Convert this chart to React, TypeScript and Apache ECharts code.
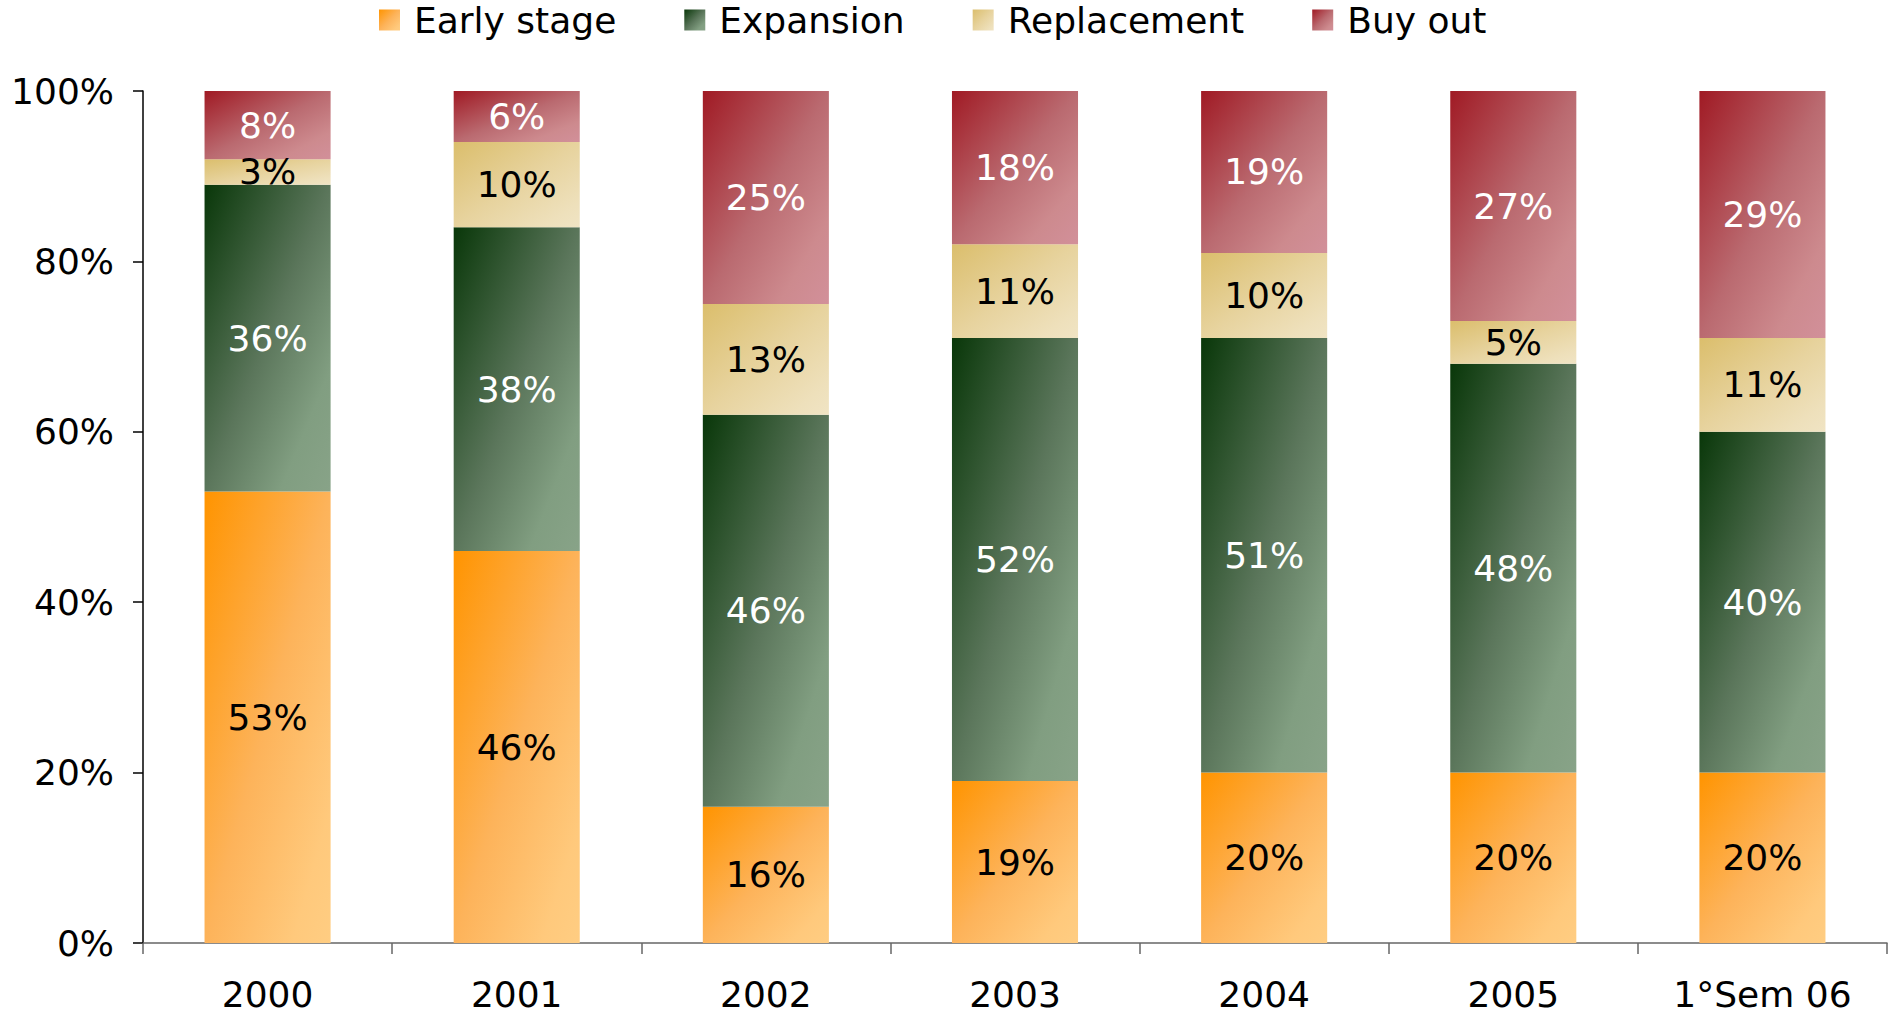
import React, { useEffect, useRef } from "react";
import * as echarts from "echarts";

const categories = ["2000", "2001", "2002", "2003", "2004", "2005", "1°Sem 06"];
const seriesNames = ["Early stage", "Expansion", "Replacement", "Buy out"];
const earlyStage = [53, 46, 16, 19, 20, 20, 20];
const expansion = [36, 38, 46, 52, 51, 48, 40];
const replacement = [3, 10, 13, 11, 10, 5, 11];
const buyOut = [8, 6, 25, 18, 19, 27, 29];
const yTicks = [0, 20, 40, 60, 80, 100];

const FONT = "DejaVu Sans";

const grad = (stops: [number, string][]) => ({
  type: "linear",
  x: 0,
  y: 0,
  x2: 1,
  y2: 1,
  global: false,
  colorStops: stops.map(([offset, color]) => ({ offset, color })),
});

const colors = [
  grad([[0, "#FF9400"], [0.5, "#FDB35A"], [0.85, "#FFC97C"], [1, "#FFCD82"]]),
  grad([[0, "#093709"], [0.5, "#5B765B"], [0.8, "#819E81"], [1, "#88A388"]]),
  grad([[0, "#DBBE6C"], [0.5, "#E7D39E"], [0.85, "#EEE0BB"], [1, "#F0E4C4"]]),
  grad([[0, "#A01A24"], [0.5, "#BA6A70"], [0.8, "#CD8A8E"], [1, "#D2909A"]]),
];
const labelColors = ["#000000", "#FFFFFF", "#000000", "#FFFFFF"];
const dataSets = [earlyStage, expansion, replacement, buyOut];

export default function App() {
  const ref = useRef<HTMLDivElement>(null);
  useEffect(() => {
    document.body.style.margin = "0";
    document.body.style.overflow = "hidden";
    const chart = echarts.init(ref.current!, undefined, { renderer: "svg" });
    chart.setOption({
      animation: false,
      backgroundColor: "#FFFFFF",
      textStyle: { fontFamily: FONT },
      legend: {
        left: 379,
        top: 0,
        padding: 0,
        itemWidth: 21,
        itemHeight: 21,
        itemGap: 68,
        icon: "rect",
        data: seriesNames,
        textStyle: {
          fontFamily: FONT,
          fontSize: 36,
          color: "#000",
          lineHeight: 40,
          padding: [0, 0, 0, 9],
        },
      },
      grid: { left: 143, right: 2, top: 91, bottom: 72 },
      xAxis: {
        type: "category",
        data: categories,
        axisLine: { show: true, lineStyle: { color: "#666666", width: 1.5 } },
        axisTick: { show: true, length: 11, lineStyle: { color: "#666666", width: 1.5 } },
        axisLabel: { fontFamily: FONT, fontSize: 36, color: "#000", margin: 33 },
        splitLine: { show: false },
      },
      yAxis: {
        type: "value",
        min: yTicks[0],
        max: yTicks[yTicks.length - 1],
        interval: yTicks[1] - yTicks[0],
        axisLine: { show: true, lineStyle: { color: "#000", width: 1.5 } },
        axisTick: { show: true, length: 10, lineStyle: { color: "#000", width: 1.5 } },
        axisLabel: { fontFamily: FONT, fontSize: 36, color: "#000", margin: 29, formatter: "{value}%" },
        splitLine: { show: false },
      },
      series: seriesNames.map((name, i) => ({
        name,
        type: "bar",
        stack: "total",
        barWidth: "50.6%",
        data: dataSets[i],
        itemStyle: { color: colors[i] },
        label: {
          show: true,
          position: "inside",
          formatter: "{c}%",
          fontFamily: FONT,
          fontSize: 36,
          color: labelColors[i],
        },
      })),
    });
    return () => chart.dispose();
  }, []);
  return <div ref={ref} style={{ width: 1889, height: 1015 }} />;
}
